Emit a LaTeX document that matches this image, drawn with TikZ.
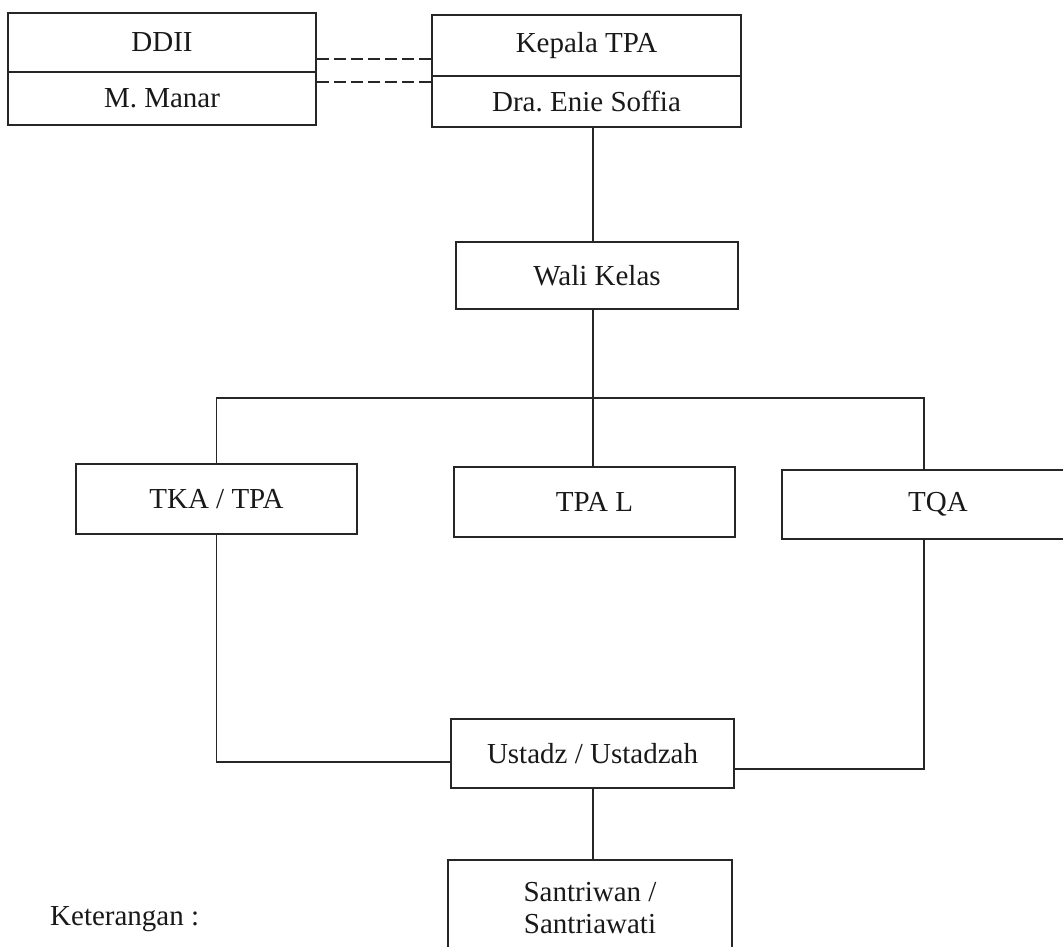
\documentclass[tikz,border=0pt]{standalone}
\usepackage{fontspec}
\setmainfont{Liberation Serif}
\frenchspacing
\begin{document}
\begin{tikzpicture}[x=1pt,y=-1pt,
  box/.style={draw=black!85, line width=2pt, inner sep=0pt, anchor=center,
    font=\fontsize{29}{31}\selectfont, text=black!90},
  conn/.style={draw=black!85, line width=1.8pt},
  dashconn/.style={conn, dash pattern=on 12pt off 5pt}]
\useasboundingbox (0,0) rectangle (1063,947);
% top-left pair
\node[box, minimum width=308pt, minimum height=59pt] (ddii) at (162,42.5) {DDII};
\node[box, minimum width=308pt, minimum height=53pt] (manar) at (162,98.5) {M. Manar};
% top-right pair
\node[box, minimum width=309pt, minimum height=61pt] (kepala) at (586.5,45.5) {Kepala TPA};
\node[box, minimum width=309pt, minimum height=51pt] (enie) at (586.5,101.5) {Dra. Enie Soffia};
\node[box, minimum width=282pt, minimum height=67pt] (wali) at (597,275.5) {Wali Kelas};
\node[box, minimum width=281pt, minimum height=70pt] (tka) at (216.5,499) {TKA / TPA};
\node[box, minimum width=281pt, minimum height=70pt] (tpal) at (594.5,502) {TPA L};
\node[box, minimum width=284pt, minimum height=69pt, text width=284pt, align=center] (tqa) at (924,504.5) {\hspace*{28pt}TQA};
\node[box, minimum width=283pt, minimum height=69pt] (ustadz) at (592.5,753.5) {Ustadz / Ustadzah};
\node[box, minimum width=284pt, minimum height=97pt, align=center, font=\fontsize{29}{32}\selectfont] (santri) at (590,908) {Santriwan /\\Santriawati};
\node[anchor=base west, inner sep=0pt, font=\fontsize{29}{31}\selectfont, text=black!90] (ket) at (50,925) {Keterangan :};
% helper coordinates
\coordinate (sp) at (593,0);
\coordinate (bus) at (593,398);
\coordinate (dA) at (0,59);
\coordinate (dB) at (0,82);
\coordinate (uL) at (0,762);
\coordinate (uR) at (0,769);
% dashed links
\draw[dashconn] (ddii.east |- dA) -- (kepala.west |- dA);
\draw[dashconn] (manar.east |- dB) -- (enie.west |- dB);
% hierarchy
\draw[conn] (enie.south -| sp) -- (wali.north -| sp);
\draw[conn] (wali.south -| sp) -- (bus);
\draw[conn] (tka.north) |- (bus) -| (tqa.north);
\draw[conn] (bus) -- (tpal.north -| bus);
\draw[conn] (tka.south) |- (ustadz.west |- uL);
\draw[conn] (tqa.south) |- (ustadz.east |- uR);
\draw[conn] (ustadz.south -| sp) -- (santri.north -| sp);
\end{tikzpicture}
\end{document}
